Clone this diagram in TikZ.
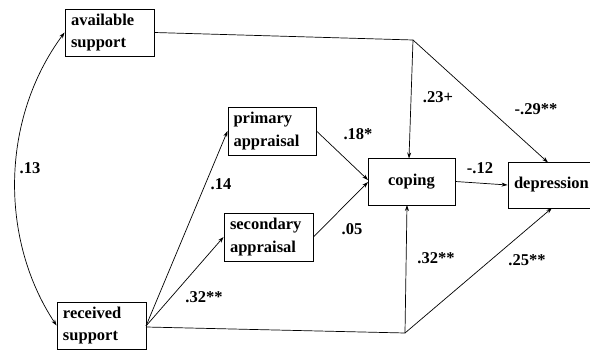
\documentclass[tikz,border=0pt]{standalone}
\usepackage{fontspec}
\setmainfont{Liberation Serif}
\usetikzlibrary{arrows.meta}
\begin{document}
\begin{tikzpicture}[x=1pt,y=-1pt,
  box/.style={draw,line width=0.9pt,inner sep=0pt,minimum width=89pt,minimum height=47pt,
    text width=77pt,align=left,font=\fontsize{16.5}{22.5}\selectfont\bfseries},
  lbl/.style={font=\fontsize{16.5}{18}\selectfont\bfseries,inner sep=0pt},
  conn/.style={line width=0.7pt,-{Stealth[length=6pt,width=4pt]}},
  plain/.style={line width=0.7pt}]
\useasboundingbox (0,0) rectangle (590,350);
\clip (0,0) rectangle (590,350);
\fill[white] (0,0) rectangle (590,350);
\node[box] (avail) at (109.5,32.5) {available\\support};
\node[box,minimum width=88pt,minimum height=48pt] (prim) at (272,131) {primary\\appraisal};
\node[box,minimum width=87pt,text width=87pt,align=center] (cop) at (411.5,181.5) {coping};
\node[box,minimum width=89pt,minimum height=48pt] (sec) at (268.5,237) {secondary\\appraisal};
\node[box] (recv) at (101.5,325.5) {received\\support};
\node[box,minimum width=100pt,minimum height=46pt,text width=88pt] (dep) at (558,185) {depression};
\coordinate (A) at (413,40);
\coordinate (B) at (405,333);
\coordinate (r1) at (146,326);
\coordinate (r2) at (146,327);
% available support paths
\draw[plain] (avail.east) -- (A);
\draw[conn] (A) -- (409,158.5);
\draw[conn] (A) -- (548,162.5);
% correlation curve
\draw[line width=0.7pt,{Stealth[length=6pt,width=4pt]}-{Stealth[length=6pt,width=4pt]}]
  (avail.west) .. controls (0,120) and (0,240) .. (recv.west);
% received support paths
\draw[conn] (r1) -- (prim.west);
\draw[conn] (r1) -- (sec.west);
\draw[plain] (r2) -- (B);
\draw[conn] (B) -- (407,205);
\draw[conn] (B) -- (552,208);
% appraisals to coping
\draw[conn] (prim.east) -- (368,180);
\draw[conn] (sec.east) -- (368,182);
\draw[conn] (cop.east) -- (dep.west);
% labels
\node[lbl] (l13) at (30,168) {.13};
\node[lbl] (l14) at (221,184) {.14};
\node[lbl] (l32a) at (204,297) {.32**};
\node[lbl] (l18) at (358,134) {.18*};
\node[lbl] (l05) at (352,229) {.05};
\node[lbl] (l23) at (438,97) {.23+};
\node[lbl] (l29) at (536,109) {-.29**};
\node[lbl] (l12) at (480,168) {-.12};
\node[lbl] (l32b) at (436,258) {.32**};
\node[lbl] (l25) at (527,260) {.25**};
\end{tikzpicture}
\end{document}
